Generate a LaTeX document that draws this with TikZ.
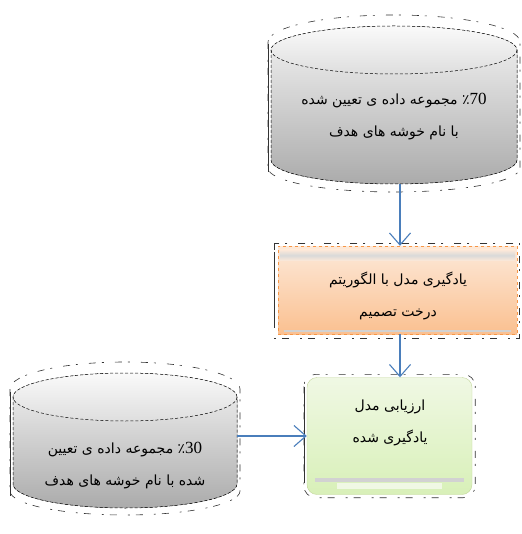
\documentclass[tikz,border=0pt]{standalone}
\usepackage{fontspec}
\usetikzlibrary{arrows.meta,calc}
\TeXXeTstate=1
\newfontfamily\arabicfont[Script=Arabic]{DejaVu Sans}
\newfontfamily\numfont{Liberation Serif}
\definecolor{cylTop}{HTML}{F4F4F4}
\definecolor{cylBot}{HTML}{ABABAB}
\definecolor{lidTop}{HTML}{FAFAFA}
\definecolor{lidBot}{HTML}{DEDEDE}
\definecolor{peachTop}{HTML}{FDE9D9}
\definecolor{peachBot}{HTML}{FAC090}
\definecolor{peachLine}{HTML}{F79646}
\definecolor{limeTop}{HTML}{F0F8E4}
\definecolor{limeBot}{HTML}{D8F0B8}
\definecolor{limeLine}{HTML}{C3D69B}
\definecolor{arrowblue}{HTML}{4A7EBB}

\begin{document}
\begin{tikzpicture}[x=1pt,y=-1pt,
    fa/.style={font=\arabicfont\fontsize{14}{32}\selectfont,align=center,inner sep=0pt},
    link/.style={-{Straight Barb[length=12pt,width=21pt]},arrowblue,line width=1.1pt},
    rim/.style={black,densely dashed,line width=.5pt},
    ghost/.style={black!80,dash pattern=on 7pt off 11pt on 2pt off 6pt,line width=.6pt}]
\useasboundingbox (0,0) rectangle (521,534);
\coordinate (axis) at (400,0);

% top cylinder, 70 percent
\fill[top color=cylTop,bottom color=cylBot] (271,50)--(271,160) arc(180:0:123 and 24)--(517,50) arc(0:-180:123 and 24);
\draw[rim,top color=lidTop,bottom color=lidBot] (394,50) ellipse (123 and 24);
\draw[rim] (271,50)--(271,160) arc(180:0:123 and 24)--(517,50);
\draw[ghost] (268,42)--(268,168) arc(180:0:126 and 24)--(520,42) arc(0:-180:126 and 27);
\draw[black!80,line width=.6pt] (268,44)--(268,172);
\node[fa,minimum width=246pt,minimum height=134pt] (train) at (394,117)
    {\beginR\beginL{\numfont\fontsize{17}{17}\selectfont 70}\endL{}٪ مجموعه داده ی تعیین شده\endR\\
     \beginR با نام خوشه های هدف\endR};

% learning box
\node[draw=peachLine,dashed,top color=peachTop,bottom color=peachBot,
      minimum width=239pt,minimum height=88pt] (learn) at (397.5,290) {};
\fill[top color=peachTop,bottom color=peachTop,middle color=gray!30]
    ($(learn.north west)+(2,4)$) rectangle ($(learn.north east)+(-2,15)$);
\fill[gray!35] ($(learn.south west)+(6,-4)$) rectangle ($(learn.south east)+(-6,-2)$);
\draw[ghost] ($(learn.north west)+(-4,-3)$) rectangle ($(learn.south east)+(2,4)$);
\draw[black!80,line width=.6pt] ($(learn.north west)+(-4,6)$) -- ($(learn.south west)+(-4,-8)$);
\node[fa] (learntxt) at (398,296)
    {\beginR یادگیری مدل با الگوریتم\endR\\ \beginR درخت تصمیم\endR};

% evaluation box
\node[draw=limeLine,rounded corners=10pt,top color=limeTop,bottom color=limeBot,
      minimum width=165pt,minimum height=117pt] (eval) at (389.5,436) {};
\fill[gray!35] ($(eval.south west)+(8,-17)$) rectangle ($(eval.south east)+(-8,-13)$);
\fill[limeTop] ($(eval.south west)+(30,-12)$) rectangle ($(eval.south east)+(-30,-6)$);
\draw[ghost,rounded corners=12pt] ($(eval.north west)+(-3,-3)$) rectangle ($(eval.south east)+(3,3)$);
\draw[black!80,line width=.6pt] ($(eval.north west)+(-3,10)$) -- ($(eval.south west)+(-3,-12)$);
\node[fa] (evaltxt) at (390,423)
    {\beginR ارزیابی مدل\endR\\ \beginR یادگیری شده\endR};

% bottom cylinder, 30 percent
\fill[top color=cylTop,bottom color=cylBot] (13,397)--(13,484) arc(180:0:112 and 24)--(237,397) arc(0:-180:112 and 24);
\draw[rim,top color=lidTop,bottom color=lidBot] (125,397) ellipse (112 and 24);
\draw[rim] (13,397)--(13,484) arc(180:0:112 and 24)--(237,397);
\draw[ghost] (10,389)--(10,491) arc(180:0:115 and 24)--(240,389) arc(0:-180:115 and 27);
\draw[black!80,line width=.6pt] (10,392)--(10,496);
\node[fa,minimum width=224pt,minimum height=84pt] (test) at (125,466)
    {\beginR\beginL{\numfont\fontsize{17}{17}\selectfont 30}\endL{}٪ مجموعه داده ی تعیین\endR\\
     \beginR شده با نام خوشه های هدف\endR};

\draw[link] (train.south -| axis) -- (learn.north -| axis);
\draw[link] (learn.south -| axis) -- (eval.north -| axis);
\draw[link] (test.east |- eval.west) -- (eval.west);
\end{tikzpicture}
\end{document}
